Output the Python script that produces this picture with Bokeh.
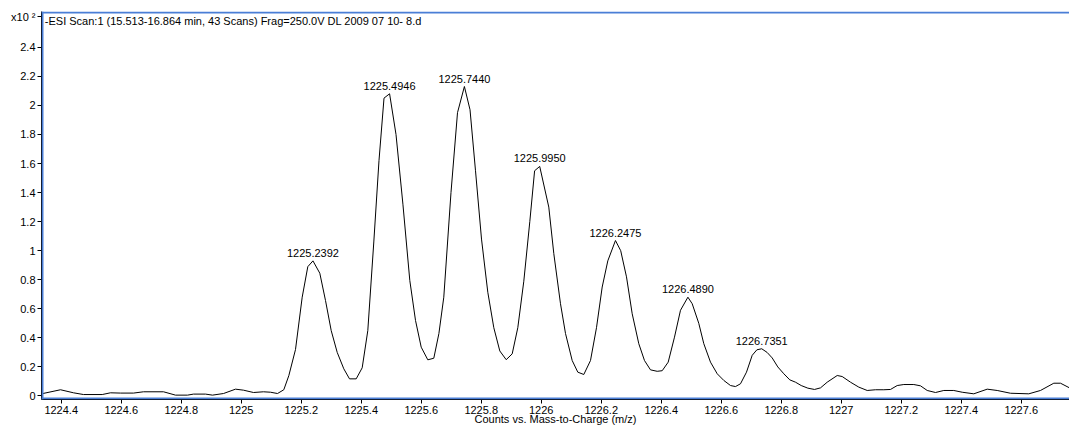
from bokeh.plotting import figure
from bokeh.models import Range1d, FixedTicker, Label, Span
from bokeh.embed import file_html
from bokeh.resources import INLINE
from bokeh.core.properties import value
import numpy as np

# Profile spectrum: m/z and abundance (x10^2 counts)
mz = [
    1224.3343, 1224.3977, 1224.4410, 1224.4743, 1224.5367, 1224.5643, 1224.5977,
    1224.6410, 1224.6743, 1224.7410, 1224.7810, 1224.8210, 1224.8410, 1224.8810,
    1224.9043, 1224.9410, 1224.9810, 1225.0077, 1225.0410, 1225.0743, 1225.0977,
    1225.1210, 1225.1420, 1225.1587, 1225.1810, 1225.2033, 1225.2220, 1225.2392,
    1225.2620, 1225.2810, 1225.3000, 1225.3200, 1225.3420, 1225.3610, 1225.3833,
    1225.4033, 1225.4220, 1225.4420, 1225.4593, 1225.4760, 1225.4946, 1225.5160,
    1225.5390, 1225.5620, 1225.5810, 1225.6000, 1225.6220, 1225.6420, 1225.6590,
    1225.6753, 1225.6993, 1225.7210, 1225.7440, 1225.7627, 1225.7810, 1225.8010,
    1225.8220, 1225.8420, 1225.8620, 1225.8833, 1225.9033, 1225.9220, 1225.9420,
    1225.9620, 1225.9780, 1225.9950, 1226.0253, 1226.0420, 1226.0643, 1226.0810,
    1226.1033, 1226.1220, 1226.1420, 1226.1643, 1226.1843, 1226.2033, 1226.2220,
    1226.2475, 1226.2650, 1226.2843, 1226.3033, 1226.3253, 1226.3443, 1226.3643,
    1226.3867, 1226.4033, 1226.4233, 1226.4443, 1226.4643, 1226.4890, 1226.5033,
    1226.5253, 1226.5420, 1226.5643, 1226.5867, 1226.6087, 1226.6310, 1226.6477,
    1226.6643, 1226.6843, 1226.7033, 1226.7190, 1226.7351, 1226.7530, 1226.7700,
    1226.7887, 1226.8087, 1226.8287, 1226.8477, 1226.8667, 1226.8887, 1226.9110,
    1226.9310, 1226.9533, 1226.9867, 1227.0033, 1227.0310, 1227.0587, 1227.0867,
    1227.1143, 1227.1420, 1227.1643, 1227.1867, 1227.2087, 1227.2420, 1227.2643,
    1227.2867, 1227.3143, 1227.3420, 1227.3753, 1227.4033, 1227.4420, 1227.4867,
    1227.5200, 1227.5643, 1227.6253, 1227.6643, 1227.7087, 1227.7310, 1227.7610,
    1227.7800,
]
abundance = [
    0.015, 0.043, 0.022, 0.010, 0.010, 0.022, 0.020,
    0.020, 0.029, 0.029, 0.006, 0.006, 0.013, 0.013,
    0.006, 0.017, 0.047, 0.040, 0.024, 0.029, 0.026,
    0.017, 0.043, 0.140, 0.320, 0.680, 0.890, 0.930,
    0.845, 0.657, 0.450, 0.300, 0.187, 0.118, 0.118,
    0.194, 0.450, 1.060, 1.620, 2.050, 2.080, 1.800,
    1.320, 0.795, 0.520, 0.336, 0.249, 0.260, 0.430,
    0.680, 1.400, 1.950, 2.130, 1.970, 1.550, 1.080,
    0.714, 0.470, 0.310, 0.250, 0.290, 0.470, 0.790,
    1.200, 1.550, 1.580, 1.300, 0.980, 0.635, 0.430,
    0.244, 0.164, 0.148, 0.244, 0.470, 0.750, 0.930,
    1.070, 1.000, 0.820, 0.566, 0.360, 0.244, 0.180,
    0.170, 0.174, 0.233, 0.405, 0.590, 0.680, 0.635,
    0.500, 0.360, 0.233, 0.153, 0.107, 0.072, 0.065,
    0.084, 0.164, 0.280, 0.318, 0.325, 0.300, 0.262,
    0.200, 0.153, 0.111, 0.095, 0.072, 0.054, 0.045,
    0.056, 0.095, 0.141, 0.134, 0.095, 0.061, 0.038,
    0.043, 0.043, 0.045, 0.072, 0.079, 0.079, 0.070,
    0.038, 0.024, 0.038, 0.038, 0.026, 0.015, 0.047,
    0.038, 0.019, 0.015, 0.038, 0.088, 0.088, 0.056,
    0.040,
]

# Labelled isotope peaks
peak_mz = [1225.2392, 1225.4946, 1225.7440, 1225.9950, 1226.2475, 1226.4890, 1226.7351]
peak_labels = ["1225.2392", "1225.4946", "1225.7440", "1225.9950",
               "1226.2475", "1226.4890", "1226.7351"]

x_ticks = [1224.4, 1224.6, 1224.8, 1225.0, 1225.2, 1225.4, 1225.6, 1225.8,
           1226.0, 1226.2, 1226.4, 1226.6, 1226.8, 1227.0, 1227.2, 1227.4, 1227.6]
x_tick_labels = ["1224.4", "1224.6", "1224.8", "1225", "1225.2", "1225.4", "1225.6",
                 "1225.8", "1226", "1226.2", "1226.4", "1226.6", "1226.8", "1227",
                 "1227.2", "1227.4", "1227.6"]
y_ticks = [0.0, 0.2, 0.4, 0.6, 0.8, 1.0, 1.2, 1.4, 1.6, 1.8, 2.0, 2.2, 2.4]
y_tick_labels = ["0", "0.2", "0.4", "0.6", "0.8", "1", "1.2", "1.4", "1.6",
                 "1.8", "2", "2.2", "2.4"]
y_scale_text = "x10 \u00b2"

title_text = "-ESI Scan:1 (15.513-16.864 min, 43 Scans) Frag=250.0V DL 2009 07 10- 8.d"
x_label_text = "Counts vs. Mass-to-Charge (m/z)"

FONT = "Liberation Sans"
FRAME_BLUE = "#4a7ed6"

x0, x1 = 1224.3343, 1227.7610
y0, y1 = -0.0241, 2.6462
px_x = (x1 - x0) / 1028.0
px_y = (y1 - y0) / 388.0

p = figure(width=1069, height=427, output_backend="svg", toolbar_location=None,
           x_range=Range1d(x0, x1), y_range=Range1d(y0, y1),
           min_border_left=41, min_border_right=0, min_border_top=11,
           min_border_bottom=28)
p.background_fill_color = "white"
p.border_fill_color = "white"
p.outline_line_color = None
p.xgrid.visible = False
p.ygrid.visible = False

for ax in (p.xaxis[0], p.yaxis[0]):
    ax.axis_line_color = "black"
    ax.major_tick_line_color = "black"
    ax.major_tick_out = 4
    ax.major_tick_in = 0
    ax.minor_tick_line_color = None
    ax.major_label_standoff = 2
    ax.major_label_text_font = FONT
    ax.major_label_text_font_size = "11px"
    ax.major_label_text_color = "black"

p.xaxis.ticker = FixedTicker(ticks=x_ticks)
p.xaxis.major_label_overrides = dict(zip(x_ticks, x_tick_labels))
p.xaxis.axis_label = x_label_text
p.xaxis.axis_label_text_font = FONT
p.xaxis.axis_label_text_font_size = "11px"
p.xaxis.axis_label_text_font_style = "normal"
p.xaxis.axis_label_text_color = "black"
p.xaxis.axis_label_standoff = -4

# the scale factor sits on the value axis, level with the top of the frame
scale_pos = y1 - 5 * px_y
p.yaxis.ticker = FixedTicker(ticks=y_ticks + [scale_pos])
overrides = dict(zip(y_ticks, y_tick_labels))
overrides[scale_pos] = y_scale_text
p.yaxis.major_label_overrides = overrides

# blue frame on left, top and bottom edges of the plot area
p.add_layout(Span(location=x0 + px_x, dimension="height", line_color=FRAME_BLUE, line_width=2))
p.add_layout(Span(location=y1 - px_y, dimension="width", line_color=FRAME_BLUE, line_width=2))
p.add_layout(Span(location=y0 + px_y, dimension="width", line_color=FRAME_BLUE, line_width=2))

# spectrum trace
p.line(mz, abundance, line_color="black", line_width=1)

# peak annotations, floated just above each apex
peak_h = np.interp(peak_mz, mz, abundance)
p.text(x=peak_mz, y=peak_h, text=peak_labels, text_align="center",
       text_baseline="alphabetic", y_offset=-8, text_font=value(FONT),
       text_font_size="11px", text_color="black")

# scan description in the top-left corner
p.add_layout(Label(x=1224.3453, y=2.5774, text=title_text, text_font=FONT,
                   text_font_size="11px", text_color="black",
                   text_baseline="alphabetic"))

open("out.html", "w").write(file_html(p, INLINE))
